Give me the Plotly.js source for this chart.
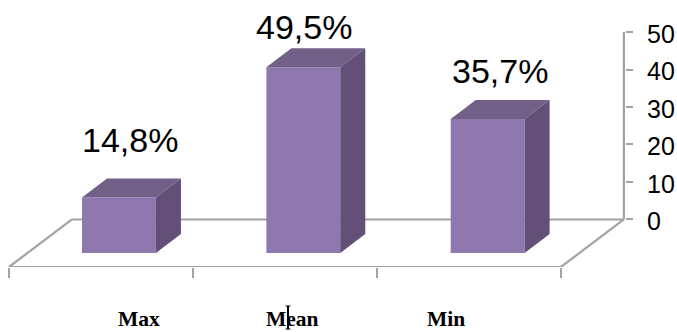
<!DOCTYPE html>
<html>
<head>
<meta charset="utf-8">
<script src="https://cdn.plot.ly/plotly-3.0.1.min.js"></script>
<style>html,body{margin:0;padding:0;background:#fff;overflow:hidden}</style>
</head>
<body>
<div id="chart" style="width:677px;height:332px"></div>
<script>
// Share of each measure, in percent
const categories = ['Max', 'Mean', 'Min'];
const values = [14.8, 49.5, 35.7];
const yTicks = [0, 10, 20, 30, 40, 50];
const floorTicks = [-0.597, 0.401, 1.399, 2.397];

// Fake-3D geometry, in axis units
const barWidth = 0.401;
const barBase = -8.93;
const depthX = 0.1356;
const depthY = 5.07;
const floorFront = -12.67;
const floorLeft = -0.597;
const floorRight = 2.397;
const floorDepthX = 0.342;

const FRONT = '#8f78ae', TOP = '#726088', SIDE = '#634f77', RULE = '#a3a3a3';

// Pixel nudges for the value and category captions
const valueShiftX = [-1, -12, 0];
const valueShiftY = [7, -10, -2];
const nameShiftX = [20, -11, -42];

const face = (xs, ys, color) => ({
  type: 'scatter', mode: 'lines', x: xs, y: ys, fill: 'toself', fillcolor: color,
  line: {width: 0, color: color}, hoverinfo: 'skip', showlegend: false
});

const traces = [{
  type: 'bar', x: [0, 1, 2], y: values, base: barBase, width: barWidth,
  marker: {color: FRONT, line: {width: 0}}, showlegend: false,
  hovertext: categories, hoverinfo: 'text'
}];

values.forEach((v, i) => {
  const l = i - barWidth / 2, r = i + barWidth / 2, t = barBase + v;
  traces.push(face([l, l + depthX, r + depthX, r, l], [t, t + depthY, t + depthY, t, t], TOP));
  traces.push(face([r, r + depthX, r + depthX, r, r],
                   [barBase, barBase + depthY, t + depthY, t, barBase], SIDE));
});

const ruleShape = (x0, y0, x1, y1) => ({
  type: 'line', xref: 'x', yref: 'y', x0, y0, x1, y1, layer: 'below',
  line: {color: RULE, width: 2.2}
});

const shapes = [
  ruleShape(floorLeft, floorFront, floorLeft + floorDepthX, 0),
  ruleShape(floorLeft + floorDepthX, 0, floorRight + floorDepthX, 0),
  ruleShape(floorRight + floorDepthX, 0, floorRight, floorFront),
  ruleShape(floorRight, floorFront, floorLeft, floorFront),
  ruleShape(floorRight + floorDepthX, 0, floorRight + floorDepthX, 50),
  // Text cursor caught over the middle caption
  {type: 'line', xref: 'paper', yref: 'paper', x0: 0.4538, x1: 0.4538, y0: -0.166, y1: -0.264,
   line: {color: '#000', width: 2}},
  {type: 'line', xref: 'paper', yref: 'paper', x0: 0.4498, x1: 0.4578, y0: -0.166, y1: -0.166,
   line: {color: '#000', width: 1}},
  {type: 'line', xref: 'paper', yref: 'paper', x0: 0.4498, x1: 0.4578, y0: -0.264, y1: -0.264,
   line: {color: '#000', width: 1}}
];

const annotations = [];
values.forEach((v, i) => {
  annotations.push({
    x: i + depthX / 2, y: barBase + v + depthY, xref: 'x', yref: 'y',
    text: v.toFixed(1).replace('.', ',') + '%', showarrow: false,
    xanchor: 'center', yanchor: 'bottom', xshift: valueShiftX[i], yshift: valueShiftY[i] + 10,
    font: {family: 'Liberation Sans, Arial, sans-serif', size: 34, color: '#000'}
  });
  annotations.push({
    x: i, y: floorFront, xref: 'x', yref: 'y', text: '<b>' + categories[i] + '</b>',
    showarrow: false, xanchor: 'center', yanchor: 'top', xshift: nameShiftX[i], yshift: -38,
    font: {family: 'Liberation Serif, Times New Roman, serif', size: 21.5, color: '#000'}
  });
});

const layout = {
  width: 677, height: 332,
  margin: {l: 8, r: 52, t: 32, b: 65},
  paper_bgcolor: '#fff', plot_bgcolor: 'rgba(0,0,0,0)',
  showlegend: false,
  xaxis: {
    range: [-0.602, 2.745], showgrid: false, zeroline: false, showline: false,
    tickmode: 'array', tickvals: floorTicks, ticks: 'outside', ticklen: 10, tickwidth: 2,
    tickcolor: RULE, showticklabels: false, fixedrange: true
  },
  yaxis: {
    range: [floorFront, 50], side: 'right', showgrid: false, zeroline: false, showline: false,
    tickmode: 'array', tickvals: yTicks, ticks: 'outside', ticklen: 7, tickwidth: 2,
    tickcolor: RULE, ticklabelstandoff: 9, ticklabelshift: 2, fixedrange: true,
    tickfont: {family: 'Liberation Sans, Arial, sans-serif', size: 25, color: '#000'}
  },
  shapes, annotations
};

Plotly.newPlot('chart', traces, layout, {displayModeBar: false, responsive: false});
</script>
</body>
</html>
